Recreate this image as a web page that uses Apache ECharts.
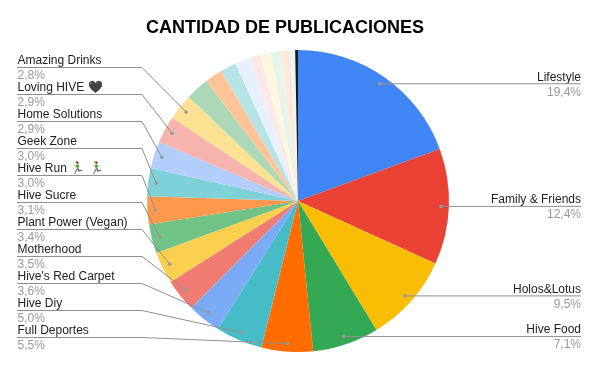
<!DOCTYPE html>
<html>
<head>
<meta charset="utf-8">
<style>
  html, body { margin: 0; padding: 0; background: #fff; }
  #main { width: 595px; height: 367px; }
</style>
<script src="https://cdn.jsdelivr.net/npm/echarts@6/dist/echarts.min.js"></script>
</head>
<body>
<div id="main"></div>
<script>
const names = ['Lifestyle', 'Family & Friends', 'Holos&Lotus', 'Hive Food', 'Full Deportes', 'Hive Diy',
	"Hive's Red Carpet", 'Motherhood', 'Plant Power (Vegan)', 'Hive Sucre', 'Hive Run 🏃‍♂️ 🏃‍♂️', 'Geek Zone',
	'Home Solutions', 'Loving HIVE 🖤', 'Amazing Drinks', 'Otros 1', 'Otros 2', 'Otros 3', 'Otros 4', 'Otros 5',
	'Otros 6', 'Otros 7', 'Otros 8', 'Otros 9', 'Otros 10']
const values = [19.4, 12.4, 9.5, 7.1, 5.5, 5.0, 3.6, 3.5, 3.4, 3.1, 3.0, 3.0, 2.9, 2.9, 2.8,
	2.5, 1.9, 1.7, 1.7, 1.1, 1.1, 1.1, 1.0, 0.5, 0.3]
const colors = ['#4285f4', '#ea4335', '#fbbc04', '#34a853', '#ff6d01', '#46bdc6', '#7baaf7', '#f07b72',
	'#fcd04f', '#71c287', '#ff994d', '#7ed1d7', '#b3cefb', '#f7b4ae', '#fde293', '#add8b8', '#ffc599',
	'#b5e3e6', '#e8f0fe', '#fce8e6', '#fef7e0', '#e6f4ea', '#ffe9dc', '#e8f7f8', '#1a1a1a']
const labeledCount = 15
const rightCount = 4

const cx = 298
const cy = 201
const radius = 151
const total = values.reduce((a, b) => a + b, 0)

// punto de la guia dentro de cada porcion
function anchorOf(index) {
	let before = 0
	for (let i = 0; i < index; i++) before += values[i]
	const angle = (before + values[index] / 2) / total * Math.PI * 2
	return [cx + Math.sin(angle) * 143, cy - Math.cos(angle) * 143]
}

function leftLineY(index) {
	return 67.5 + (labeledCount - 1 - index) * 27
}

function formatPct(v) {
	return v.toFixed(1).replace('.', ',') + '%'
}

const chart = echarts.init(document.getElementById('main'))

// guias y puntos: van encima de la torta
const guides = []
for (let i = 0; i < labeledCount; i++) {
	const p = anchorOf(i)
	const points = i < rightCount
		? [p, [581, p[1]]]
		: [p, [142, leftLineY(i)], [17, leftLineY(i)]]
	guides.push({
		type: 'polyline',
		z: 100,
		shape: { points: points },
		style: { stroke: '#8f8f8f', lineWidth: 1, fill: null }
	})
	guides.push({
		type: 'circle',
		z: 101,
		shape: { cx: p[0], cy: p[1], r: 1.8 },
		style: { fill: '#999999' }
	})
}

chart.setOption({
	animation: false,
	title: {
		text: 'CANTIDAD DE PUBLICACIONES',
		left: 280,
		top: 14,
		textAlign: 'center',
		textStyle: { fontFamily: 'Liberation Sans', fontSize: 18, fontWeight: 'bold', color: '#000' }
	},
	graphic: guides,
	series: [
		{
			type: 'pie',
			center: [cx, cy],
			radius: [0, radius],
			startAngle: 90,
			clockwise: true,
			avoidLabelOverlap: false,
			silent: true,
			itemStyle: { borderWidth: 0 },
			data: names.map((name, i) => ({
				name: name,
				value: values[i],
				itemStyle: { color: colors[i] },
				label: { show: i < labeledCount }
			})),
			label: {
				position: 'outside',
				fontFamily: 'Liberation Sans',
				formatter: params => '{n|' + params.name + '}\n{p|' + formatPct(params.value) + '}',
				rich: {
					n: { fontFamily: 'Liberation Sans', fontSize: 12, lineHeight: 15, color: '#222222' },
					p: { fontFamily: 'Liberation Sans', fontSize: 12, lineHeight: 15, color: '#999999' }
				}
			},
			labelLine: { show: false },
			labelLayout: params => {
				const i = params.dataIndex
				if (i >= labeledCount) return {}
				if (i < rightCount) {
					return { x: 581, y: anchorOf(i)[1] + 1, align: 'right', verticalAlign: 'middle' }
				}
				return { x: 17.5, y: leftLineY(i) + 1, align: 'left', verticalAlign: 'middle' }
			}
		}
	]
})
</script>
</body>
</html>
